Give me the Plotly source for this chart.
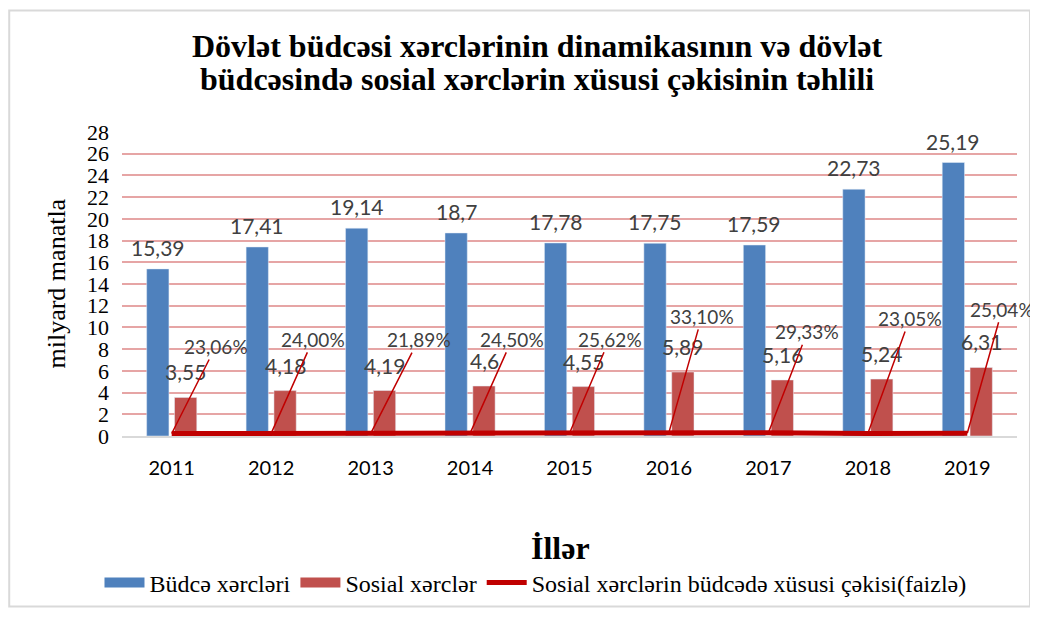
import plotly.graph_objects as go

years = ["2011", "2012", "2013", "2014", "2015", "2016", "2017", "2018", "2019"]
budget = [15.39, 17.41, 19.14, 18.7, 17.78, 17.75, 17.59, 22.73, 25.19]
social = [3.55, 4.18, 4.19, 4.6, 4.55, 5.89, 5.16, 5.24, 6.31]
share = [0.2306, 0.2400, 0.2189, 0.2450, 0.2562, 0.3310, 0.2933, 0.2305, 0.2504]

budget_labels = ["15,39", "17,41", "19,14", "18,7", "17,78", "17,75", "17,59", "22,73", "25,19"]
social_labels = ["3,55", "4,18", "4,19", "4,6", "4,55", "5,89", "5,16", "5,24", "6,31"]
share_labels = ["23,06%", "24,00%", "21,89%", "24,50%", "25,62%", "33,10%", "29,33%", "23,05%", "25,04%"]

title_lines = ["Dövlət büdcəsi xərclərinin dinamikasının və dövlət",
               "büdcəsində sosial xərclərin xüsusi çəkisinin təhlili"]

# pixel offsets of the percent labels (Excel moved them by hand)
share_ax = [44, 42, 48, 42, 40, 33, 39, 42, 35]
share_ay = [-87, -94, -94, -94, -94, -116, -101, -115, -124]

serif = "Liberation Serif, Times New Roman, serif"
sans = "Lato"
lbl_color = "#404040"
blue = "#4F81BD"
red = "#C0504D"

fig = go.Figure()
fig.add_trace(go.Bar(x=years, y=budget, name="Büdcə xərcləri", marker_color=blue, showlegend=False))
fig.add_trace(go.Bar(x=years, y=social, name="Sosial xərclər", marker_color=red, showlegend=False))
fig.add_trace(go.Scatter(x=years, y=share, name="Sosial xərclərin büdcədə xüsusi çəkisi(faizlə)",
                         mode="lines", line=dict(color="#C00000", width=5), showlegend=False))

# legend entries with wide rectangular swatches like Excel
fig.add_trace(go.Scatter(x=[None], y=[None], mode="lines", name="Büdcə xərcləri",
                         line=dict(color=blue, width=13)))
fig.add_trace(go.Scatter(x=[None], y=[None], mode="lines", name="Sosial xərclər",
                         line=dict(color=red, width=13)))
fig.add_trace(go.Scatter(x=[None], y=[None], mode="lines",
                         name="Sosial xərclərin büdcədə xüsusi çəkisi(faizlə)",
                         line=dict(color="#C00000", width=5)))

ann = []
for i in range(len(years)):
    ann.append(dict(x=i, y=budget[i], text=budget_labels[i], showarrow=False, xshift=-14,
                    yanchor="bottom", yshift=7, font=dict(family=sans, size=21, color=lbl_color)))
    ann.append(dict(x=i, y=social[i], text=social_labels[i], showarrow=False, xshift=14,
                    yanchor="bottom", yshift=11, font=dict(family=sans, size=21, color=lbl_color)))
    ann.append(dict(x=i, y=share[i], text=share_labels[i], showarrow=True, arrowhead=0,
                    arrowcolor="#C00000", arrowwidth=1.5, ax=share_ax[i], ay=share_ay[i],
                    font=dict(family=sans, size=19, color=lbl_color)))

ann.append(dict(xref="paper", yref="paper", x=-0.0743, y=0.5, xanchor="center", yanchor="middle",
                text="milyard manatla", textangle=-90,
                showarrow=False, font=dict(family=serif, size=26, color="black")))
ann.append(dict(xref="paper", yref="paper", x=0.49, y=-0.369, xanchor="center", yanchor="middle",
                text="<b>İllər</b>",
                showarrow=False, font=dict(family=serif, size=32, color="black")))
for k, line in enumerate(title_lines):
    ann.append(dict(xref="paper", yref="paper", x=0.4637, y=1.282 - k * 0.108,
                    xanchor="center", yanchor="middle", text="<b>" + line + "</b>",
                    showarrow=False, font=dict(family=serif, size=32, color="black")))

# the page body adds an 8px offset, so the figure is a bit smaller than the window
fig.update_layout(
    width=1030, height=609,
    margin=dict(l=114, r=21, t=124, b=169),
    paper_bgcolor="white", plot_bgcolor="white",
    barmode="group", bargap=0.44, bargroupgap=0.2,
    showlegend=True,
    legend=dict(orientation="h", x=0.462, xanchor="center", y=-0.483, yanchor="middle",
                font=dict(family=serif, size=24, color="black"), itemwidth=40,
                tracegroupgap=0),
    annotations=ann,
    shapes=[dict(type="rect", xref="paper", yref="paper", x0=-0.126, x1=1.0145, y0=-0.561, y1=1.40,
                 line=dict(color="#D9D9D9", width=2))],
)
fig.update_xaxes(type="category", range=[-0.5, len(years) - 0.5], showline=True,
                 linecolor="#D9D9D9", linewidth=2, ticks="", ticklabelstandoff=13,
                 tickfont=dict(family=sans, size=20, color="black"))
fig.update_yaxes(range=[0, 28], dtick=2, showgrid=True, gridcolor="#E6A5A5", gridwidth=2,
                 zeroline=False, ticks="", ticklabelstandoff=12,
                 tickfont=dict(family=serif, size=22, color="black"))

fig.write_html("out.html")
